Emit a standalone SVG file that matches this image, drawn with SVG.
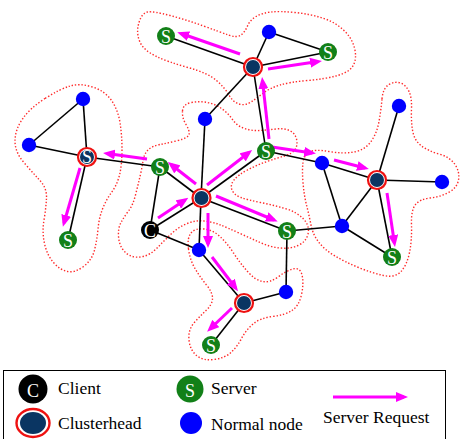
<svg xmlns="http://www.w3.org/2000/svg" width="461" height="439" viewBox="0 0 461 439">
<defs>
<style>
.cl{fill:none;stroke:#ff2a2a;stroke-width:1.4;stroke-dasharray:1.4 1.9}
.e{stroke:#000;stroke-width:1.6;fill:none}
.rq{stroke:#ff00ff;stroke-width:3;fill:none;marker-end:url(#ah)}
.b{fill:#0000ff}
.s{fill:#128018}
.c{fill:#000}
.ring{fill:#fff;stroke:#ee1111;stroke-width:2.2}
.nv{fill:#0a3562}
.t{font-family:"Liberation Serif","Times New Roman",serif;fill:#fff;text-anchor:middle;font-size:18px}
.lt{font-family:"Liberation Serif","Times New Roman",serif;fill:#000;font-size:17.5px}
</style>
<marker id="ah" viewBox="0 0 12 10" refX="8" refY="5" markerWidth="12" markerHeight="10" orient="auto" markerUnits="userSpaceOnUse">
<path d="M0,0 L12,5 L0,10 Z" fill="#ff00ff"/>
</marker>
</defs>
<rect width="461" height="439" fill="#fff"/>

<g id="clusters">
<path class="cl" d="M139,22.5 Q142,13 147.5,12 Q153,11 170,15.5 Q187,20 203.5,26 Q220,32 228.5,35 Q237,38 241,35 Q245,32 247.5,26 Q250,20 256,16.5 Q262,13 271,12 Q280,11 295,12.5 Q310,14 322.5,18 Q335,22 343.5,30 Q352,38 354.5,48 Q357,58 353.5,65 Q350,72 337.5,75.5 Q325,79 307.5,80.5 Q290,82 280,85 Q270,88 263.5,93 Q257,98 251,102 Q245,106 239,104 Q233,102 229,95 Q225,88 216.5,80.5 Q208,73 188,67.5 Q168,62 155.5,56 Q143,50 139.5,41 Q136,32 139,22.5 Z"/>
<path class="cl" d="M45,98.5 Q60,89 70,86 Q80,83 92.5,87 Q105,91 111.5,100.5 Q118,110 120,122.5 Q122,135 122,150 Q122,165 119.5,175 Q117,185 111.5,192.5 Q106,200 102.5,209 Q99,218 98,229 Q97,240 94.5,250 Q92,260 83.5,266.5 Q75,273 67.5,271.5 Q60,270 53.5,262.5 Q47,255 44.5,243.5 Q42,232 44,220 Q46,208 46.5,198 Q47,188 39.5,180 Q32,172 23.5,162 Q15,152 15,141 Q15,130 22.5,119 Q30,108 45,98.5 Z"/>
<path class="cl" d="M182.5,111 Q183,104 191.5,102.5 Q200,101 207.5,102.5 Q215,104 221.5,108.5 Q228,113 232.5,119.5 Q237,126 244.5,128.5 Q252,131 260,130.5 Q268,130 276,129 Q284,128 289.5,130.5 Q295,133 296.5,139 Q298,145 295,149.5 Q292,154 284.5,156 Q277,158 267,161.5 Q257,165 247.5,170 Q238,175 234,180 Q230,185 232,190 Q234,195 241,197.5 Q248,200 260.5,202.5 Q273,205 285,208.5 Q297,212 303.5,219 Q310,226 308,234 Q306,242 298,245.5 Q290,249 280,248 Q270,247 260,242.5 Q250,238 239,233 Q228,228 220.5,225 Q213,222 204,221 Q195,220 186,224 Q177,228 170,235 Q163,242 156.5,248.5 Q150,255 143,256.5 Q136,258 131,256 Q126,254 122.5,249 Q119,244 118.5,236 Q118,228 121,222.5 Q124,217 128.5,211 Q133,205 135.5,195 Q138,185 140,176.5 Q142,168 143,161 Q144,154 148,150 Q152,146 160,144.5 Q168,143 178,140.5 Q188,138 189,134.5 Q190,131 186,124.5 Q182,118 182.5,111 Z"/>
<path class="cl" d="M382,99 Q383,88 389,84.5 Q395,81 400.5,83 Q406,85 409,91.5 Q412,98 411.5,109 Q411,120 412.5,130 Q414,140 421,145.5 Q428,151 439,154 Q450,157 455,164.5 Q460,172 458.5,180 Q457,188 448.5,192.5 Q440,197 430,198 Q420,199 415.5,204.5 Q411,210 411.5,225 Q412,240 409.5,252.5 Q407,265 401,271.5 Q395,278 383.5,275.5 Q372,273 358.5,267.5 Q345,262 335,256 Q325,250 319,242.5 Q313,235 311,225 Q309,215 306.5,205 Q304,195 303,182.5 Q302,170 303,162.5 Q304,155 309.5,152 Q315,149 329,151.5 Q343,154 354,152 Q365,150 371,141.5 Q377,133 379,121.5 Q381,110 382,99 Z"/>
<path class="cl" d="M188.5,249 Q187,238 191,233 Q195,228 204,229 Q213,230 220,236.5 Q227,243 233.5,253 Q240,263 247.5,271.5 Q255,280 262.5,281.5 Q270,283 278,277 Q286,271 293,269 Q300,267 302,275 Q304,283 301.5,294.5 Q299,306 292,310.5 Q285,315 272.5,316.5 Q260,318 253,324 Q246,330 241.5,338.5 Q237,347 231,352.5 Q225,358 214,359.5 Q203,361 196.5,355.5 Q190,350 189,340 Q188,330 194,323 Q200,316 206,310.5 Q212,305 212.5,299 Q213,293 206.5,285 Q200,277 195,268.5 Q190,260 188.5,249 Z"/>
</g>

<g id="connectors">
<g id="links">
<line class="e" x1="166" y1="36" x2="253" y2="67"/>
<line class="e" x1="269" y1="32" x2="253" y2="67"/>
<line class="e" x1="269" y1="32" x2="328" y2="52"/>
<line class="e" x1="253" y1="67" x2="328" y2="52"/>
<line class="e" x1="253" y1="67" x2="205" y2="119"/>
<line class="e" x1="253" y1="67" x2="266" y2="151"/>
<line class="e" x1="205" y1="119" x2="201" y2="198"/>
<line class="e" x1="83" y1="99" x2="87" y2="157"/>
<line class="e" x1="29" y1="145" x2="83" y2="99"/>
<line class="e" x1="29" y1="145" x2="87" y2="157"/>
<line class="e" x1="87" y1="157" x2="68" y2="240"/>
<line class="e" x1="87" y1="157" x2="160" y2="167"/>
<line class="e" x1="160" y1="167" x2="201" y2="198"/>
<line class="e" x1="160" y1="167" x2="150" y2="230"/>
<line class="e" x1="150" y1="230" x2="201" y2="198"/>
<line class="e" x1="150" y1="230" x2="199" y2="250"/>
<line class="e" x1="201" y1="198" x2="199" y2="250"/>
<line class="e" x1="201" y1="198" x2="266" y2="151"/>
<line class="e" x1="201" y1="198" x2="287" y2="231"/>
<line class="e" x1="266" y1="151" x2="322" y2="163"/>
<line class="e" x1="322" y1="163" x2="377" y2="180"/>
<line class="e" x1="377" y1="180" x2="399" y2="106"/>
<line class="e" x1="377" y1="180" x2="442" y2="182"/>
<line class="e" x1="377" y1="180" x2="342" y2="226"/>
<line class="e" x1="377" y1="180" x2="392" y2="257"/>
<line class="e" x1="322" y1="163" x2="342" y2="226"/>
<line class="e" x1="342" y1="226" x2="392" y2="257"/>
<line class="e" x1="342" y1="226" x2="287" y2="231"/>
<line class="e" x1="199" y1="250" x2="244" y2="303"/>
<line class="e" x1="244" y1="303" x2="286" y2="292"/>
<line class="e" x1="286" y1="292" x2="287" y2="231"/>
<line class="e" x1="244" y1="303" x2="211" y2="345"/>
</g>
<g id="requests">
<line class="rq" x1="240" y1="54" x2="181" y2="33.5"/>
<line class="rq" x1="268" y1="69" x2="318" y2="61.5"/>
<line class="rq" x1="269" y1="139" x2="262.5" y2="81"/>
<line class="rq" x1="147" y1="159" x2="107" y2="153.5"/>
<line class="rq" x1="80" y1="168" x2="64" y2="223"/>
<line class="rq" x1="158" y1="218" x2="185" y2="200"/>
<line class="rq" x1="196" y1="184" x2="171" y2="164.5"/>
<line class="rq" x1="207" y1="185" x2="249" y2="152.5"/>
<line class="rq" x1="216" y1="196" x2="274" y2="220"/>
<line class="rq" x1="208" y1="213" x2="208" y2="244"/>
<line class="rq" x1="272" y1="147" x2="312" y2="153"/>
<line class="rq" x1="334" y1="160" x2="365" y2="168"/>
<line class="rq" x1="387" y1="193" x2="394.4" y2="243"/>
<line class="rq" x1="212" y1="257" x2="235.6" y2="288"/>
<line class="rq" x1="232" y1="308" x2="210" y2="329"/>
</g>
</g>

<g id="nodes">
<g id="ch-top"><circle class="ring" cx="253" cy="67" r="9"/><circle class="nv" cx="253" cy="67" r="7"/></g>
<g id="ch-center"><circle class="ring" cx="201.5" cy="198" r="9"/><circle class="nv" cx="201.5" cy="198" r="7"/></g>
<g id="ch-right"><circle class="ring" cx="377" cy="180" r="9"/><circle class="nv" cx="377" cy="180" r="7"/></g>
<g id="ch-bottom"><circle class="ring" cx="244" cy="303" r="9"/><circle class="nv" cx="244" cy="303" r="7"/></g>
<g id="ch-left"><circle class="ring" cx="87" cy="157" r="9"/><circle class="nv" cx="87" cy="157" r="7"/><text class="t" x="87" y="163" font-size="16">S</text></g>

<g id="s1"><circle class="s" cx="166" cy="36" r="9"/><text class="t" x="166" y="42.5">S</text></g>
<g id="s2"><circle class="s" cx="328" cy="52" r="9"/><text class="t" x="328" y="58.5">S</text></g>
<g id="s3"><circle class="s" cx="266" cy="151" r="9"/><text class="t" x="266" y="157.5">S</text></g>
<g id="s4"><circle class="s" cx="68" cy="240" r="9"/><text class="t" x="68" y="246.5">S</text></g>
<g id="s5"><circle class="s" cx="160" cy="167" r="9"/><text class="t" x="160" y="173.5">S</text></g>
<g id="s6"><circle class="s" cx="287" cy="231" r="9"/><text class="t" x="287" y="237.5">S</text></g>
<g id="s7"><circle class="s" cx="392" cy="257" r="9"/><text class="t" x="392" y="263.5">S</text></g>
<g id="s8"><circle class="s" cx="211" cy="345" r="9"/><text class="t" x="211" y="351.5">S</text></g>

<g id="client"><circle class="c" cx="150" cy="230" r="9"/><text class="t" x="150" y="236.5">C</text></g>

<g id="b1"><circle class="b" cx="269" cy="32" r="7.2"/></g>
<g id="b2"><circle class="b" cx="205" cy="119" r="7.2"/></g>
<g id="b3"><circle class="b" cx="83" cy="99" r="7.2"/></g>
<g id="b4"><circle class="b" cx="29" cy="145" r="7.2"/></g>
<g id="b5"><circle class="b" cx="199" cy="250" r="7.2"/></g>
<g id="b6"><circle class="b" cx="322" cy="163" r="7.2"/></g>
<g id="b7"><circle class="b" cx="399" cy="106" r="7.2"/></g>
<g id="b8"><circle class="b" cx="442" cy="182" r="7.2"/></g>
<g id="b9"><circle class="b" cx="342" cy="226" r="7.2"/></g>
<g id="b10"><circle class="b" cx="286" cy="292" r="7.2"/></g>
</g>

<g id="legend">
<rect x="3.5" y="370.5" width="442" height="80" fill="none" stroke="#000" stroke-width="1"/>
<circle cx="33" cy="389" r="14.5" fill="#000"/>
<text class="t" x="33" y="397" font-size="22">C</text>
<text class="lt" x="58" y="394">Client</text>
<ellipse cx="33" cy="423" rx="16.5" ry="14" fill="#fff" stroke="#ee1111" stroke-width="2.4"/>
<ellipse cx="33" cy="423" rx="13" ry="11" fill="#0a3562"/>
<text class="lt" x="58" y="429">Clusterhead</text>
<circle cx="190" cy="389" r="13.5" fill="#128018"/>
<text class="t" x="190" y="397" font-size="22">S</text>
<text class="lt" x="211" y="394">Server</text>
<circle cx="191" cy="423" r="11" fill="#0000ff"/>
<text class="lt" x="211" y="430">Normal node</text>
<line class="rq" x1="333" y1="397" x2="404" y2="397"/>
<text class="lt" x="323" y="423">Server Request</text>
</g>
</svg>
